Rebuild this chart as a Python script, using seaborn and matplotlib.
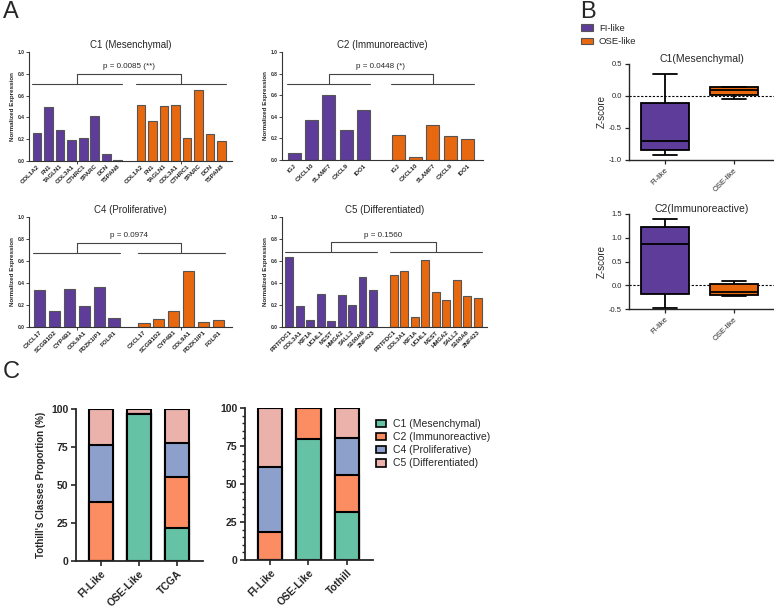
import pandas as pd
import seaborn as sns
import matplotlib.pyplot as plt
from matplotlib.patches import Patch

sns.set_style("ticks")
plt.rcParams["font.family"] = ["Liberation Sans", "DejaVu Sans"]
plt.rcParams["axes.unicode_minus"] = False

PURPLE = "#5E3C99"
ORANGE = "#E8680F"

# ---------------- A: normalized expression of the signature genes
c1_genes = ["COL1A2", "FN1", "TAGLN1", "COL3A1", "CTHRC1", "SPARC", "DCN", "TSPAN8"]
c1_fi = [0.26, 0.50, 0.28, 0.19, 0.21, 0.41, 0.065, 0.01]
c1_ose = [0.51, 0.37, 0.505, 0.51, 0.21, 0.65, 0.25, 0.18]

c2_genes = ["IGJ", "CXCL10", "SLAMF7", "CXCL9", "IDO1"]
c2_fi = [0.067, 0.367, 0.605, 0.28, 0.465]
c2_ose = [0.235, 0.03, 0.32, 0.22, 0.195]

c4_genes = ["CXCL17", "SCGB1D2", "CYP4B1", "COL9A1", "PDZK1IP1", "FOLR1"]
c4_fi = [0.333, 0.145, 0.35, 0.19, 0.36, 0.085]
c4_ose = [0.036, 0.076, 0.145, 0.51, 0.048, 0.067]

c5_genes = ["PRTFDC1", "COL3A1", "KIF1A", "UCHL1", "MEST", "HMGA2", "SALL2", "S100A6", "ZNF423"]
c5_fi = [0.638, 0.19, 0.06, 0.30, 0.055, 0.295, 0.197, 0.456, 0.334]
c5_ose = [0.47, 0.513, 0.09, 0.608, 0.316, 0.248, 0.43, 0.28, 0.26]

a_titles = ["C1 (Mesenchymal)", "C2 (Immunoreactive)", "C4 (Proliferative)", "C5 (Differentiated)"]
a_pvals = ["p = 0.0085 (**)", "p = 0.0448 (*)", "p = 0.0974", "p = 0.1560"]

# ---------------- B: z-score box plots (whisker low, Q1, median, Q3, whisker high)
b_groups = ["FI-like", "OSE-like"]
b_c1_fi = [-0.92, -0.84, -0.70, -0.11, 0.35]
b_c1_ose = [-0.05, 0.01, 0.095, 0.135, 0.145]
b_c2_fi = [-0.475, -0.18, 0.865, 1.22, 1.39]
b_c2_ose = [-0.23, -0.21, -0.15, 0.02, 0.085]

# ---------------- C: Tothill class proportions (%)
c_classes = ["C1 (Mesenchymal)", "C2 (Immunoreactive)", "C4 (Proliferative)", "C5 (Differentiated)"]
c_colors = ["#66C2A5", "#FC8D62", "#8DA0CB", "#EBB2AC"]

left_groups = ["FI-Like", "OSE-Like", "TCGA"]
left_c1 = [0, 96.5, 22]
left_c2 = [39, 0, 33.5]
left_c4 = [37, 0, 22]
left_c5 = [24, 3.5, 22.5]

right_groups = ["FI-Like", "OSE-Like", "Tothill"]
right_c1 = [0, 79.5, 31.5]
right_c2 = [18.5, 20.5, 24.5]
right_c4 = [43, 0, 24.5]
right_c5 = [38.5, 0, 19.5]

W, H = 774, 607
fig = plt.figure(figsize=(W / 100, H / 100), dpi=100)


def add_ax(x0, y0, x1, y1):
    return fig.add_axes([x0 / W, 1 - y1 / H, (x1 - x0) / W, (y1 - y0) / H])


def expr_panel(ax, genes, fi, ose, title, ptxt, yb, ybt, yp):
    n = len(genes)
    pos = list(range(n)) + list(range(n + 1, 2 * n + 1))
    df = pd.DataFrame({"pos": pos, "val": fi + ose,
                       "group": ["FI-like"] * n + ["OSE-like"] * n})
    sns.barplot(data=df, x="pos", y="val", hue="group", palette=[PURPLE, ORANGE],
                native_scale=True, dodge=False, width=0.75, edgecolor="#555555",
                linewidth=0.8, saturation=1, legend=False, ax=ax)
    ax.set_xlim(-0.7, 2 * n + 0.9)
    ax.set_ylim(0, 1.0)
    ax.set_xticks(pos)
    ax.set_xticklabels(genes + genes, rotation=45, ha="right", rotation_mode="anchor",
                       fontsize=4.4, fontweight="bold", color="#222222")
    g1, g2 = (n - 1) / 2, n + 1 + (n - 1) / 2
    ax.set_xticks([g1, g2], minor=True)
    ax.tick_params(axis="x", which="major", length=0, pad=2)
    ax.tick_params(axis="x", which="minor", length=2, width=0.6)
    yt = [0, 0.2, 0.4, 0.6, 0.8, 1.0]
    ax.set_yticks(yt)
    ax.set_yticklabels([f"{v:.1f}" for v in yt], fontsize=3.5, fontweight="bold")
    ax.tick_params(axis="y", length=2, width=0.6, pad=1)
    ax.set_xlabel("")
    ax.set_ylabel("Normalized Expression", fontsize=4.5, fontweight="bold", labelpad=2)
    ax.set_title(title, fontsize=7, pad=3)
    for s in ("left", "bottom"):
        ax.spines[s].set_linewidth(0.8)
        ax.spines[s].set_color("#333333")
    sns.despine(ax=ax)
    kw = dict(color="#444444", lw=0.8, clip_on=False)
    ax.plot([-0.4, n - 0.6], [yb, yb], **kw)
    ax.plot([n + 0.6, 2 * n + 0.4], [yb, yb], **kw)
    ax.plot([g1, g1, g2, g2], [yb, ybt, ybt, yb], **kw)
    ax.text((g1 + g2) / 2, yp, ptxt, ha="center", va="center", fontsize=5.8)


axA = [add_ax(29, 52, 232, 161), add_ax(282, 52, 483, 160),
       add_ax(29, 217, 232, 327), add_ax(282, 217, 487, 327)]
expr_panel(axA[0], c1_genes, c1_fi, c1_ose, a_titles[0], a_pvals[0], 0.705, 0.796, 0.865)
expr_panel(axA[1], c2_genes, c2_fi, c2_ose, a_titles[1], a_pvals[1], 0.70, 0.795, 0.864)
expr_panel(axA[2], c4_genes, c4_fi, c4_ose, a_titles[2], a_pvals[2], 0.676, 0.764, 0.836)
expr_panel(axA[3], c5_genes, c5_fi, c5_ose, a_titles[3], a_pvals[3], 0.68, 0.77, 0.836)

fig.legend(handles=[Patch(facecolor=PURPLE, edgecolor="#555555", lw=0.8),
                    Patch(facecolor=ORANGE, edgecolor="#555555", lw=0.8)],
           labels=["FI-like", "OSE-like"], loc="upper left",
           bbox_to_anchor=(581 / W, 1 - 24 / H), frameon=False, fontsize=6.8,
           borderpad=0, borderaxespad=0, handlelength=1.3, handleheight=0.7,
           handletextpad=0.6, labelspacing=0.45)


def z_panel(ax, fi, ose, title, ylim, yticks):
    df = pd.DataFrame({"grp": [b_groups[0]] * 5 + [b_groups[1]] * 5, "z": fi + ose})
    ax.axhline(0, color="black", lw=0.8, ls=(0, (2, 1.5)), zorder=0)
    sns.boxplot(data=df, x="grp", y="z", hue="grp", palette=[PURPLE, ORANGE],
                whis=(0, 100), width=0.7, linecolor="black", linewidth=1.3,
                saturation=1, legend=False, ax=ax)
    ax.set_xlim(-0.52, 1.58)
    ax.set_ylim(*ylim)
    ax.set_yticks(yticks)
    ax.set_yticklabels([f"{v:.1f}" for v in yticks], fontsize=5.5)
    ax.set_xticks([0, 1])
    ax.set_xticklabels(b_groups, rotation=45, ha="right", rotation_mode="anchor", fontsize=5.5)
    ax.tick_params(length=3, width=0.9, pad=2)
    ax.set_xlabel("")
    ax.set_ylabel("Z-score", fontsize=7, labelpad=2)
    ax.set_title(title, fontsize=7.5, pad=1.5)
    for s in ("left", "bottom"):
        ax.spines[s].set_linewidth(1.0)
    sns.despine(ax=ax)


axB1 = add_ax(629, 64, 774, 160)
axB2 = add_ax(629, 214, 774, 309)
z_panel(axB1, b_c1_fi, b_c1_ose, "C1(Mesenchymal)", (-1.0, 0.5), [-1.0, -0.5, 0.0, 0.5])
z_panel(axB2, b_c2_fi, b_c2_ose, "C2(Immunoreactive)", (-0.5, 1.5), [-0.5, 0.0, 0.5, 1.0, 1.5])


def stack_panel(ax, groups, layers, ylab, minor):
    df = pd.DataFrame({"grp": groups})
    cum = [0] * len(groups)
    tops = []
    for lay in layers:
        cum = [c + v for c, v in zip(cum, lay)]
        tops.append(cum)
    # draw from the top class down so each lower segment covers the one above
    for top, col in reversed(list(zip(tops, c_colors))):
        df["top"] = top
        sns.barplot(data=df, x="grp", y="top", color=col, width=0.63, saturation=1,
                    edgecolor="black", linewidth=1.5, ax=ax)
    ax.set_xlim(-0.65, 2.68)
    ax.set_ylim(0, 100)
    ax.set_yticks([0, 25, 50, 75, 100])
    ax.set_yticklabels(["0", "25", "50", "75", "100"], fontsize=7.5, fontweight="bold")
    if minor:
        ax.set_yticks(range(0, 101, 5), minor=True)
        ax.tick_params(axis="y", which="minor", length=2, width=1.0)
    ax.set_xticks(range(len(groups)))
    ax.set_xticklabels(groups, rotation=45, ha="right", rotation_mode="anchor",
                       fontsize=7.5, fontweight="bold")
    ax.tick_params(which="major", length=3.5, width=1.2, pad=2)
    ax.set_xlabel("")
    ax.set_ylabel(ylab, fontsize=7, fontweight="bold")
    for s in ("left", "bottom"):
        ax.spines[s].set_linewidth(1.3)
    sns.despine(ax=ax)


axC1 = add_ax(76, 409, 203, 561)
axC2 = add_ax(245, 408, 373, 560)
stack_panel(axC1, left_groups, [left_c1, left_c2, left_c4, left_c5],
            "Tothill's Classes Proportion (%)", False)
stack_panel(axC2, right_groups, [right_c1, right_c2, right_c4, right_c5], "", True)

fig.legend(handles=[Patch(facecolor=c, edgecolor="black", lw=1.2) for c in c_colors],
           labels=c_classes, loc="upper left", bbox_to_anchor=(376 / W, 1 - 419 / H),
           frameon=False, fontsize=7.5, borderpad=0, borderaxespad=0,
           handlelength=1.0, handleheight=0.75, handletextpad=0.6, labelspacing=0.3)

fig.text(3 / W, 1 - 1 / H, "A", fontsize=17, va="top", ha="left")
fig.text(580 / W, 1 - 1 / H, "B", fontsize=17, va="top", ha="left")
fig.text(3 / W, 1 - 361 / H, "C", fontsize=17, va="top", ha="left")

fig.savefig("out.png", dpi=100)
